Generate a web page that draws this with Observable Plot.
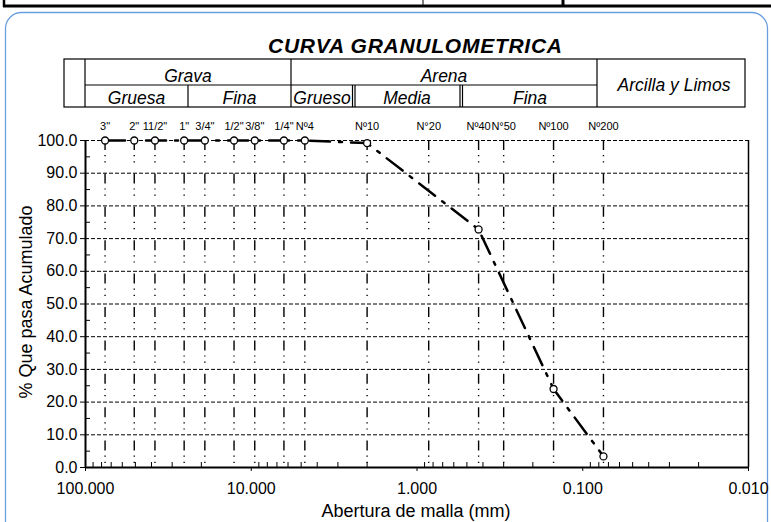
<!DOCTYPE html>
<html><head><meta charset="utf-8">
<script src="https://cdn.jsdelivr.net/npm/d3@7"></script>
<script src="https://cdn.jsdelivr.net/npm/@observablehq/plot@0.6"></script>
<style>html,body{margin:0;padding:0;background:#fff;} #chart{position:relative;width:771px;height:522px;overflow:hidden}</style>
</head><body><div id="chart"></div>
<script>
// ---- data ----
const sieveLabels = ['3"', '2"', '11/2"', '1"', '3/4"', '1/2"', '3/8"', '1/4"', 'Nº4', 'Nº10', 'N°20', 'Nº40', 'N°50', 'Nº100', 'Nº200'];
const sieveOpenings = [76.2, 50.8, 38.1, 25.4, 19.05, 12.7, 9.525, 6.35, 4.75, 2.0, 0.85, 0.425, 0.3, 0.15, 0.075];
const percentPassing = [100, 100, 100, 100, 100, 100, 100, 100, 100, 99.2, null, 72.8, null, 24.0, 3.4];
const xTicks = [100, 10, 1, 0.1, 0.01];
const yTicks = [0, 10, 20, 30, 40, 50, 60, 70, 80, 90, 100];
const yMinorTicks = [5, 15, 25, 35, 45, 55, 65, 75, 85, 95];
const chartTitle = "CURVA GRANULOMETRICA";
const xTitle = "Abertura de malla (mm)";
const yTitle = "% Que pasa Acumulado";
const headerTop = ["Grava", "Arena"];
const headerSub = ["Gruesa", "Fina", "Grueso", "Media", "Fina"];
const headerRight = "Arcilla y Limos";

const sieves = sieveOpenings.map((o, i) => ({opening: o, label: sieveLabels[i], passing: percentPassing[i]}));
const measured = sieves.filter(d => d.passing != null);
const xMinorTicks = [];
for (const dec of [10, 1, 0.1, 0.01]) for (const m of [2,3,4,5,6,7,8,9]) xMinorTicks.push(+(dec*m).toPrecision(3));

const W = 771, H = 522, mL = 85, mR = 23, mT = 140, mB = 55;
const pw = W - mL - mR, ph = H - mT - mB;
const FONT = "'Liberation Sans', Arial, sans-serif";

const plot = Plot.plot({
  width: W, height: H,
  marginLeft: mL, marginRight: mR, marginTop: mT, marginBottom: mB,
  style: {fontFamily: FONT, background: "transparent", color: "black", overflow: "visible"},
  x: {type: "log", domain: [100, 0.01]},
  y: {domain: [0, 100]},
  marks: [
    Plot.ruleY(yTicks.slice(1), {stroke: "black", strokeWidth: 1, strokeDasharray: "4,2"}),
    Plot.ruleX(sieveOpenings, {stroke: "black", strokeWidth: 1.4, strokeDasharray: "10,5,1.2,5,1.2,11"}),
    Plot.tickY(yMinorTicks, {stroke: "black", strokeWidth: 1, insetRight: pw - 5}),
    Plot.tickX(xMinorTicks, {stroke: "black", strokeWidth: 1, insetTop: ph - 5}),
    Plot.ruleX([0.01], {stroke: "black", strokeWidth: 1.5}),
    Plot.ruleX([100], {stroke: "black", strokeWidth: 2}),
    Plot.ruleY([0], {stroke: "black", strokeWidth: 2}),
    Plot.axisY({ticks: yTicks, tickFormat: d => d.toFixed(1), tickSize: 5, tickPadding: 3, fontSize: 16, label: null}),
    Plot.axisX({ticks: xTicks, tickFormat: d => d.toFixed(3), tickSize: 4, tickPadding: 11, fontSize: 16, label: null}),
    Plot.line(measured, {x: "opening", y: "passing", stroke: "black", strokeWidth: 2.5, strokeDasharray: "20,9,3,9"}),
    Plot.dot(measured, {x: "opening", y: "passing", r: 3.5, fill: "white", stroke: "black", strokeWidth: 1.3}),
    Plot.text(sieves, {x: "opening", text: "label", frameAnchor: "top", dy: -18, fontSize: 11, fill: "black"})
  ]
});
document.getElementById("chart").appendChild(plot);

const svg = d3.select(plot);
// background rounded box
svg.insert("rect", ":first-child")
  .attr("x", 5.5).attr("y", 12.5).attr("width", 762).attr("height", 530).attr("rx", 16)
  .attr("fill", "white").attr("stroke", "#6b9fe0").attr("stroke-width", 1.3);

const deco = svg.append("g").attr("font-family", FONT).attr("fill", "black");
// top strip of outer table
deco.append("line").attr("x1", 3).attr("x2", 771).attr("y1", 6).attr("y2", 6).attr("stroke", "black").attr("stroke-width", 3);
[[4, 2.5], [423, 1], [563, 3]].forEach(([x, w]) =>
  deco.append("line").attr("x1", x).attr("x2", x).attr("y1", 0).attr("y2", 7).attr("stroke", "black").attr("stroke-width", w));

// title
deco.append("text").attr("x", 415).attr("y", 53).attr("text-anchor", "middle")
  .attr("font-size", 21).attr("font-weight", "bold").attr("font-style", "italic")
  .attr("textLength", 294).text(chartTitle);

// header table
const tbl = deco.append("g").attr("stroke", "black").attr("stroke-width", 1.2).attr("fill", "none");
tbl.append("rect").attr("x", 64).attr("y", 59).attr("width", 681).attr("height", 48);
const vline = (x, y1, y2) => tbl.append("line").attr("x1", x).attr("x2", x).attr("y1", y1).attr("y2", y2);
vline(85, 59, 107); vline(291, 59, 107); vline(597, 59, 107);
tbl.append("line").attr("x1", 85).attr("x2", 597).attr("y1", 85).attr("y2", 85);
vline(188, 85, 107); vline(352.5, 85, 107); vline(355, 85, 107); vline(460, 85, 107); vline(462.5, 85, 107);

const ht = (t, x, y) => deco.append("text").attr("x", x).attr("y", y).attr("text-anchor", "middle")
  .attr("font-size", 17.5).attr("font-style", "italic").text(t);
ht(headerTop[0], 188, 82); ht(headerTop[1], 444, 82);
const subX = [136.5, 239.5, 322, 407, 530];
headerSub.forEach((t, i) => ht(t, subX[i], 104));
ht(headerRight, 674, 91);

// axis titles
deco.append("text").attr("x", 416).attr("y", 517).attr("text-anchor", "middle")
  .attr("font-size", 18).text(xTitle);
deco.append("text").attr("transform", "translate(32,302) rotate(-90)").attr("text-anchor", "middle")
  .attr("font-size", 18).text(yTitle);
</script></body></html>
